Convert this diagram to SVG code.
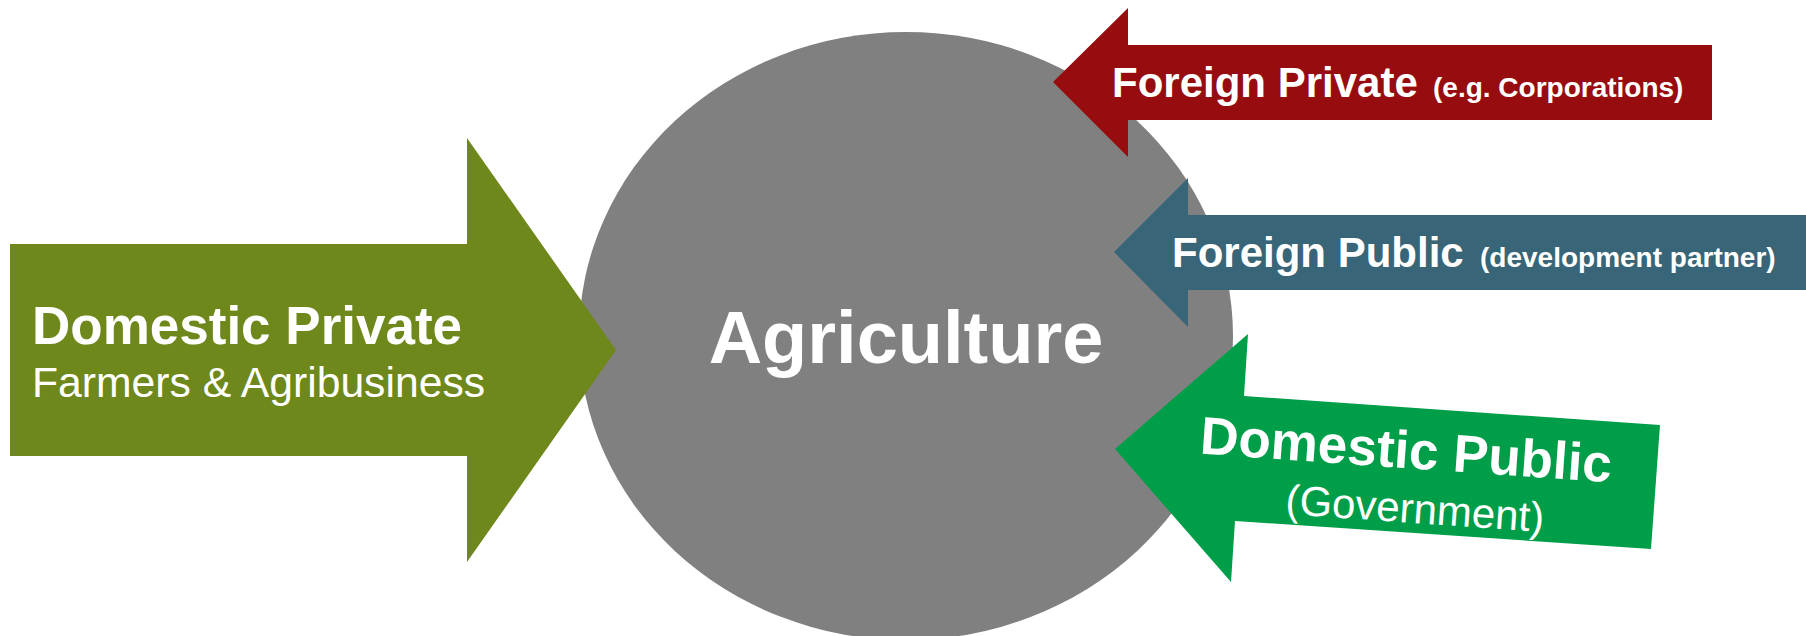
<svg xmlns="http://www.w3.org/2000/svg" width="1806" height="636" viewBox="0 0 1806 636">
  <style>
    text { font-family: "Liberation Sans", Arial, sans-serif; fill: #ffffff; }
    .b { font-weight: bold; }
    .big { font-size: 53px; }
    .mid { font-size: 42px; }
    .small { font-size: 28px; }
  </style>
  <rect width="1806" height="636" fill="#ffffff"/>

  <!-- central node -->
  <g id="agriculture">
    <ellipse cx="906" cy="336" rx="327" ry="304" fill="#808080"/>
    <text class="b" x="906" y="363" font-size="74" text-anchor="middle">Agriculture</text>
  </g>

  <!-- incoming flows, drawn as block arrows -->
  <g id="connectors">
    <g id="domestic-private">
      <polygon points="10,244 467,244 467,138 616,350 467,562 467,456 10,456" fill="#6E881B"/>
      <text class="b big" x="32" y="344">Domestic Private</text>
      <text x="32" y="397" style="font-size:42.7px">Farmers &amp; Agribusiness</text>
    </g>

    <g id="foreign-private">
      <polygon points="1053,82 1128,8 1128,45 1712,45 1712,120 1128,120 1128,157" fill="#960C0F"/>
      <text class="b"><tspan class="mid" x="1112" y="97">Foreign Private</tspan><tspan class="small" x="1433" y="97">(e.g. Corporations)</tspan></text>
    </g>

    <g id="foreign-public">
      <polygon points="1114,252 1188,178 1188,215 1806,215 1806,290 1188,290 1188,327" fill="#386577"/>
      <text class="b"><tspan class="mid" x="1172" y="267">Foreign Public</tspan><tspan class="small" x="1480" y="267">(development partner)</tspan></text>
    </g>

    <g id="domestic-public">
      <polygon points="1115,449 1248,334 1244,396 1660,425 1651,549 1235,521 1231,582" fill="#009E49"/>
      <text class="b big" x="1405" y="468" text-anchor="middle" transform="rotate(4 1405 468)">Domestic Public</text>
      <text class="mid" x="1414" y="523" text-anchor="middle" transform="rotate(4 1414 523)">(Government)</text>
    </g>
  </g>
</svg>
